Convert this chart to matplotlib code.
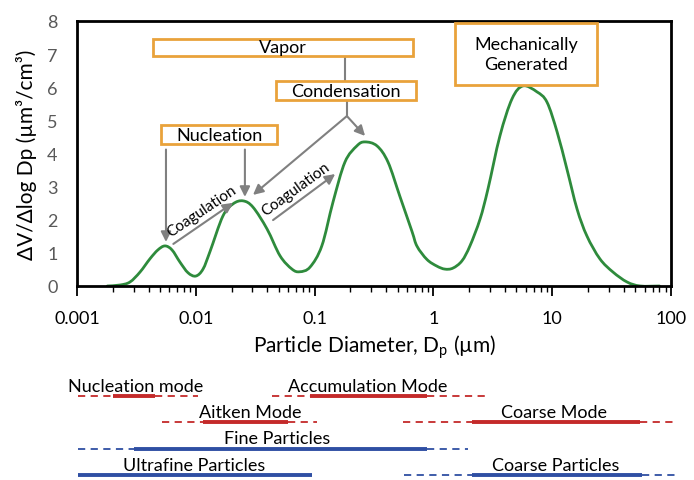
import numpy as np
import matplotlib
matplotlib.use('Agg')
import matplotlib.pyplot as plt
from matplotlib.patches import Rectangle, PathPatch
from matplotlib.path import Path

plt.rcParams['font.family'] = ['Lato', 'DejaVu Sans']
plt.rcParams['mathtext.fontset'] = 'custom'
plt.rcParams['mathtext.rm'] = 'Lato'
plt.rcParams['mathtext.it'] = 'Lato:italic'

# ---- data: volume size distribution ----
diameter = [0.0018, 0.0023, 0.00279, 0.00339, 0.00411, 0.0048, 0.0055, 0.0063, 0.00736, 0.0086,
            0.0100, 0.0115, 0.0132, 0.0169, 0.0206, 0.025, 0.0303, 0.0398, 0.0512, 0.0645,
            0.075, 0.0915, 0.115, 0.143, 0.18, 0.227, 0.265, 0.335, 0.415, 0.523,
            0.66, 0.728, 0.883, 1.07, 1.25, 1.46, 1.74, 2.03, 2.47,
            2.88, 3.63, 4.59, 5.68, 7.45, 9.04, 11.0, 13.3, 16.2, 19.6,
            25.2, 32.5, 42.7, 55.0, 80.0]
volume = [0.0, 0.03, 0.12, 0.42, 0.82, 1.09, 1.21, 1.09, 0.72, 0.40,
          0.30, 0.51, 1.05, 2.11, 2.48, 2.57, 2.38, 1.72, 0.91, 0.51,
          0.43, 0.57, 1.21, 2.54, 3.74, 4.23, 4.35, 4.23, 3.74, 2.70,
          1.65, 1.20, 0.80, 0.60, 0.51, 0.54, 0.76, 1.21, 2.02,
          2.93, 4.53, 5.65, 6.04, 5.86, 5.55, 4.65, 3.53, 2.32, 1.51,
          0.82, 0.42, 0.12, 0.0, 0.0]

x_ticks = [0.001, 0.01, 0.1, 1, 10, 100]
x_tick_labels = ['0.001', '0.01', '0.1', '1', '10', '100']
y_ticks = [0, 1, 2, 3, 4, 5, 6, 7, 8]

# ---- data: size ranges below the chart ----
range_names = ['Nucleation mode', 'Accumulation Mode', 'Aitken Mode', 'Coarse Mode',
               'Fine Particles', 'Ultrafine Particles', 'Coarse Particles']
range_lo = [0.00102, 0.044, 0.0052, 0.55, 0.00102, 0.00102, 0.57]
range_solid_lo = [0.002, 0.092, 0.0115, 2.1, 0.003, 0.00102, 2.1]
range_solid_hi = [0.0045, 0.88, 0.06, 55, 0.88, 0.095, 57]
range_hi = [0.0104, 3.0, 0.105, 110, 1.95, 0.095, 110]
range_row = [0, 0, 1, 1, 2, 3, 3]
range_label_x = [0.00314, 0.281, 0.0286, 10.35, 0.0483, 0.00966, 10.8]
range_kind = ['mode', 'mode', 'mode', 'mode', 'particle', 'particle', 'particle']

RED = '#c42a2a'
BLUE = '#2f4fa3'
GREEN = '#2e8b3c'
ORANGE = '#e9a23b'
GRAY = '#808080'

fig = plt.figure(figsize=(6.94, 4.81), dpi=100)
ax = fig.add_axes([77/694, 1-287/481, 594/694, 265/481])
ax.set_xscale('log')
ax.set_xlim(0.001, 100)
ax.set_ylim(0, 8)

# smoothed line (Excel-style smoothing) through the data points, as a Bezier path
lx = np.log10(np.asarray(diameter, float))
ly = np.asarray(volume, float)
px = np.concatenate([[lx[0]], lx, [lx[-1]]])
py = np.concatenate([[ly[0]], ly, [ly[-1]]])
verts = [(diameter[0], volume[0])]
codes = [Path.MOVETO]
for i in range(1, len(px) - 2):
    c1x = px[i] + (px[i + 1] - px[i - 1]) / 6
    c1y = py[i] + (py[i + 1] - py[i - 1]) / 6
    c2x = px[i + 1] - (px[i + 2] - px[i]) / 6
    c2y = py[i + 1] - (py[i + 2] - py[i]) / 6
    verts += [(10 ** c1x, c1y), (10 ** c2x, c2y), (10 ** px[i + 1], py[i + 1])]
    codes += [Path.CURVE4] * 3
ax.add_patch(PathPatch(Path(verts, codes), fill=False, edgecolor=GREEN, lw=2.0,
                       capstyle='round', joinstyle='round'))

ax.set_xticks(x_ticks)
ax.set_xticklabels(x_tick_labels)
ax.set_yticks(y_ticks)
ax.tick_params(axis='x', which='major', direction='out', length=7, width=1.3, pad=10,
               labelsize=13, colors='black')
ax.tick_params(axis='x', which='minor', direction='out', length=4, width=1.0)
ax.tick_params(axis='y', length=0, pad=14, labelsize=13, labelcolor='#595959')
for s in ax.spines.values():
    s.set_linewidth(2.0)
    s.set_color('black')
ax.set_xlabel('Particle Diameter, D$_\\mathrm{p}$ (µm)', fontsize=15, labelpad=5)
ax.set_ylabel('ΔV/Δlog Dp (µm³/cm³)', fontsize=15, labelpad=7)

# ---- boxes ----
def box(x0, x1, y0, y1):
    ax.add_patch(Rectangle((x0, y0), x1 - x0, y1 - y0, facecolor='white',
                           edgecolor=ORANGE, lw=2.0, zorder=3))

box(0.00437, 0.673, 6.94, 7.46)
ax.text(0.0542, 7.2, 'Vapor', ha='center', va='center', fontsize=13, zorder=4)
box(0.0473, 0.714, 5.62, 6.19)
ax.text(0.184, 5.9, 'Condensation', ha='center', va='center', fontsize=13, zorder=4)
box(0.0051, 0.0482, 4.29, 4.86)
ax.text(0.0157, 4.57, 'Nucleation', ha='center', va='center', fontsize=13, zorder=4)
box(1.52, 23.8, 6.07, 7.94)
ax.text(6.02, 7.0, 'Mechanically\nGenerated', ha='center', va='center', fontsize=13,
        linespacing=1.35, zorder=4)

# ---- connectors and arrows ----
ax.plot([0.180, 0.180], [6.94, 6.19], color=GRAY, lw=1.5, zorder=2)
ax.plot([0.187, 0.187], [5.62, 5.13], color=GRAY, lw=1.5, zorder=2)
aprops = dict(arrowstyle='-|>', color=GRAY, lw=1.5, mutation_scale=15, shrinkA=0, shrinkB=0)
ax.annotate('', xy=(0.0303, 2.75), xytext=(0.187, 5.13), arrowprops=aprops)
ax.annotate('', xy=(0.266, 4.53), xytext=(0.187, 5.13), arrowprops=aprops)
ax.annotate('', xy=(0.00561, 1.33), xytext=(0.00561, 4.12), arrowprops=aprops)
ax.annotate('', xy=(0.0259, 2.69), xytext=(0.0259, 4.12), arrowprops=aprops)
ax.annotate('', xy=(0.0206, 2.51), xytext=(0.00647, 1.27), arrowprops=aprops)
ax.annotate('', xy=(0.149, 3.38), xytext=(0.0447, 1.99), arrowprops=aprops)
ax.text(0.0113, 2.26, 'Coagulation', rotation=34, ha='center', va='center', fontsize=11,
        rotation_mode='anchor')
ax.text(0.0697, 2.93, 'Coagulation', rotation=36, ha='center', va='center', fontsize=11,
        rotation_mode='anchor')

# ---- size-range bars ----
ax2 = fig.add_axes([77/694, 0, 594/694, 101/481])
ax2.set_xscale('log')
ax2.set_xlim(0.001, 100)
ax2.set_ylim(3.19, -0.646)
ax2.axis('off')
for name, lo, slo, shi, hi, row, lxl, kind in zip(range_names, range_lo, range_solid_lo,
                                                 range_solid_hi, range_hi, range_row,
                                                 range_label_x, range_kind):
    c = RED if kind == 'mode' else BLUE
    if slo > lo:
        ax2.plot([lo, slo], [row, row], color=c, lw=1.3, ls=(0, (4, 3)), clip_on=False)
    ax2.plot([slo, shi], [row, row], color=c, lw=2.8, clip_on=False, solid_capstyle='butt')
    if hi > shi:
        ax2.plot([shi, hi], [row, row], color=c, lw=1.3, ls=(0, (4, 3)), clip_on=False)
    ax2.text(lxl, row - 0.2, name, ha='center', va='baseline', fontsize=13, clip_on=False)

fig.savefig('out.png', dpi=100)
